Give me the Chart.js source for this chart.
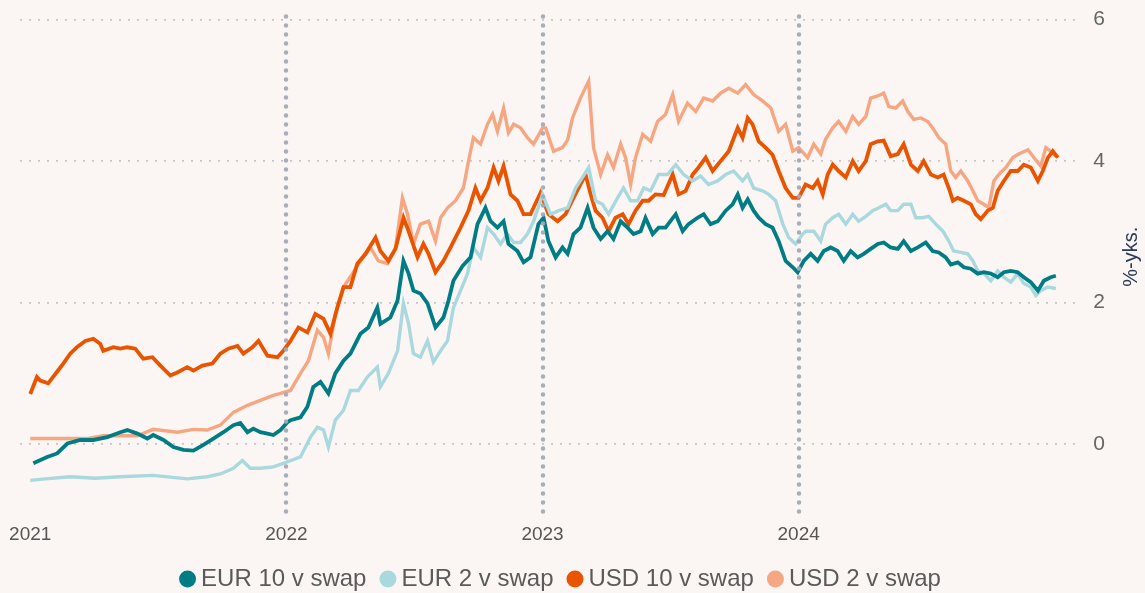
<!DOCTYPE html>
<html>
<head>
<meta charset="utf-8">
<script src="https://cdn.jsdelivr.net/npm/chart.js@4.4.0/dist/chart.umd.min.js"></script>
<style>
  html, body { margin: 0; padding: 0; background: #fbf6f3; }
  #wrap { width: 1145px; height: 593px; }
</style>
</head>
<body>
<div id="wrap"><canvas id="swapChart"></canvas></div>
<script>
// tick labels
const yearTicks = [2021, 2022, 2023, 2024];
const yearLines = [2022, 2023, 2024];
const valueTicks = [0, 2, 4, 6];
const unitLabel = '%-yks.';
const seriesNames = ['EUR 10 v swap', 'EUR 2 v swap', 'USD 10 v swap', 'USD 2 v swap'];

// [decimal year, %]
const eur10 = [
    [2021.012, -0.27], [2021.066, -0.18], [2021.105, -0.13], [2021.145, 0.01], [2021.195, 0.06],
    [2021.246, 0.06], [2021.301, 0.10], [2021.352, 0.17], [2021.379, 0.20], [2021.418, 0.15],
    [2021.457, 0.08], [2021.480, 0.13], [2021.520, 0.06], [2021.559, -0.04], [2021.598, -0.08],
    [2021.637, -0.09], [2021.676, -0.01], [2021.715, 0.08], [2021.754, 0.17], [2021.793, 0.27],
    [2021.820, 0.30], [2021.848, 0.17], [2021.871, 0.22], [2021.898, 0.17], [2021.926, 0.15],
    [2021.949, 0.13], [2021.977, 0.20], [2022.004, 0.31], [2022.016, 0.34], [2022.055, 0.38],
    [2022.082, 0.53], [2022.105, 0.81], [2022.133, 0.88], [2022.164, 0.72], [2022.191, 1.00],
    [2022.223, 1.18], [2022.250, 1.28], [2022.289, 1.56], [2022.320, 1.65], [2022.355, 1.93],
    [2022.367, 1.70], [2022.406, 1.79], [2022.434, 2.03], [2022.457, 2.59], [2022.477, 2.41],
    [2022.496, 2.17], [2022.523, 2.13], [2022.551, 1.99], [2022.582, 1.65], [2022.613, 1.79],
    [2022.633, 2.03], [2022.652, 2.31], [2022.688, 2.52], [2022.719, 2.64], [2022.746, 3.11],
    [2022.777, 3.34], [2022.797, 3.15], [2022.824, 3.06], [2022.848, 3.15], [2022.867, 2.83],
    [2022.902, 2.73], [2022.926, 2.57], [2022.953, 2.64], [2022.984, 3.11], [2023.004, 3.20],
    [2023.023, 2.87], [2023.051, 2.64], [2023.078, 2.78], [2023.098, 2.69], [2023.121, 2.97],
    [2023.148, 3.06], [2023.176, 3.34], [2023.199, 3.06], [2023.227, 2.90], [2023.254, 3.01],
    [2023.277, 2.90], [2023.305, 3.15], [2023.332, 3.06], [2023.355, 2.97], [2023.383, 3.01],
    [2023.402, 3.20], [2023.430, 2.97], [2023.453, 3.06], [2023.480, 3.06], [2023.520, 3.25],
    [2023.547, 3.01], [2023.570, 3.11], [2023.605, 3.20], [2023.629, 3.25], [2023.656, 3.11],
    [2023.684, 3.15], [2023.715, 3.30], [2023.742, 3.39], [2023.762, 3.53], [2023.781, 3.34],
    [2023.801, 3.46], [2023.824, 3.30], [2023.844, 3.20], [2023.871, 3.11], [2023.898, 3.06],
    [2023.922, 2.87], [2023.949, 2.59], [2023.977, 2.50], [2023.996, 2.43], [2024.020, 2.59],
    [2024.047, 2.69], [2024.074, 2.59], [2024.098, 2.73], [2024.125, 2.78], [2024.152, 2.73],
    [2024.176, 2.59], [2024.203, 2.73], [2024.230, 2.64], [2024.254, 2.69], [2024.281, 2.76],
    [2024.309, 2.83], [2024.332, 2.85], [2024.359, 2.78], [2024.387, 2.76], [2024.410, 2.87],
    [2024.438, 2.73], [2024.465, 2.78], [2024.496, 2.85], [2024.523, 2.73], [2024.547, 2.71],
    [2024.574, 2.64], [2024.594, 2.54], [2024.621, 2.57], [2024.645, 2.50], [2024.672, 2.48],
    [2024.699, 2.41], [2024.723, 2.43], [2024.750, 2.41], [2024.777, 2.36], [2024.801, 2.43],
    [2024.828, 2.45], [2024.855, 2.43], [2024.879, 2.36], [2024.906, 2.29], [2024.934, 2.17],
    [2024.957, 2.31], [2024.984, 2.36], [2025.004, 2.38]
];

const eur2 = [
    [2021.000, -0.51], [2021.059, -0.49], [2021.156, -0.46], [2021.254, -0.48], [2021.352, -0.46],
    [2021.480, -0.44], [2021.613, -0.49], [2021.691, -0.46], [2021.742, -0.42], [2021.793, -0.34],
    [2021.828, -0.23], [2021.859, -0.34], [2021.898, -0.34], [2021.949, -0.32], [2021.988, -0.27],
    [2022.055, -0.18], [2022.094, 0.10], [2022.121, 0.24], [2022.145, 0.20], [2022.164, -0.04],
    [2022.191, 0.34], [2022.223, 0.48], [2022.250, 0.76], [2022.281, 0.76], [2022.316, 0.95],
    [2022.355, 1.09], [2022.367, 0.81], [2022.398, 1.00], [2022.434, 1.32], [2022.457, 1.99],
    [2022.477, 1.70], [2022.496, 1.28], [2022.523, 1.23], [2022.551, 1.46], [2022.574, 1.16],
    [2022.602, 1.32], [2022.629, 1.46], [2022.652, 1.93], [2022.680, 2.17], [2022.707, 2.41],
    [2022.730, 2.78], [2022.758, 2.64], [2022.785, 3.06], [2022.809, 2.97], [2022.836, 2.83],
    [2022.863, 2.97], [2022.887, 2.85], [2022.914, 2.85], [2022.941, 2.97], [2022.965, 3.15],
    [2022.992, 3.44], [2023.000, 3.53], [2023.031, 3.25], [2023.063, 3.30], [2023.098, 3.34],
    [2023.129, 3.62], [2023.156, 3.77], [2023.180, 3.91], [2023.207, 3.44], [2023.234, 3.39],
    [2023.258, 3.25], [2023.293, 3.48], [2023.316, 3.62], [2023.344, 3.44], [2023.371, 3.44],
    [2023.395, 3.62], [2023.422, 3.58], [2023.453, 3.81], [2023.488, 3.81], [2023.520, 3.95],
    [2023.551, 3.81], [2023.586, 3.72], [2023.617, 3.79], [2023.648, 3.67], [2023.684, 3.72],
    [2023.715, 3.81], [2023.746, 3.86], [2023.781, 3.72], [2023.801, 3.81], [2023.824, 3.62],
    [2023.859, 3.58], [2023.883, 3.53], [2023.910, 3.44], [2023.938, 3.11], [2023.961, 2.92],
    [2023.988, 2.83], [2024.016, 2.97], [2024.027, 3.01], [2024.059, 3.01], [2024.086, 2.87],
    [2024.105, 3.11], [2024.133, 3.20], [2024.156, 3.25], [2024.184, 3.11], [2024.211, 3.25],
    [2024.234, 3.15], [2024.262, 3.22], [2024.289, 3.30], [2024.313, 3.34], [2024.340, 3.39],
    [2024.359, 3.30], [2024.387, 3.30], [2024.410, 3.39], [2024.438, 3.39], [2024.457, 3.20],
    [2024.484, 3.20], [2024.508, 3.22], [2024.535, 3.11], [2024.563, 3.01], [2024.586, 2.87],
    [2024.605, 2.73], [2024.633, 2.71], [2024.660, 2.69], [2024.680, 2.59], [2024.699, 2.45],
    [2024.723, 2.41], [2024.750, 2.31], [2024.777, 2.45], [2024.801, 2.36], [2024.828, 2.29],
    [2024.855, 2.41], [2024.879, 2.27], [2024.906, 2.22], [2024.926, 2.10], [2024.945, 2.17],
    [2024.973, 2.22], [2025.004, 2.20]
];

const usd10 = [
    [2021.000, 0.71], [2021.026, 0.95], [2021.039, 0.90], [2021.070, 0.86], [2021.104, 1.02],
    [2021.129, 1.14], [2021.156, 1.28], [2021.182, 1.37], [2021.215, 1.46], [2021.246, 1.49],
    [2021.273, 1.42], [2021.285, 1.32], [2021.324, 1.37], [2021.352, 1.35], [2021.379, 1.37],
    [2021.410, 1.35], [2021.441, 1.21], [2021.477, 1.23], [2021.508, 1.11], [2021.547, 0.97],
    [2021.578, 1.02], [2021.613, 1.09], [2021.637, 1.04], [2021.672, 1.11], [2021.711, 1.14],
    [2021.742, 1.28], [2021.773, 1.35], [2021.809, 1.39], [2021.832, 1.28], [2021.867, 1.37],
    [2021.891, 1.46], [2021.926, 1.25], [2021.965, 1.23], [2021.988, 1.32], [2022.016, 1.46],
    [2022.047, 1.65], [2022.082, 1.58], [2022.113, 1.84], [2022.145, 1.77], [2022.172, 1.56],
    [2022.199, 1.93], [2022.223, 2.22], [2022.250, 2.22], [2022.277, 2.55], [2022.309, 2.69],
    [2022.348, 2.92], [2022.367, 2.73], [2022.398, 2.59], [2022.426, 2.76], [2022.457, 3.20],
    [2022.477, 3.01], [2022.512, 2.64], [2022.535, 2.83], [2022.555, 2.69], [2022.582, 2.43],
    [2022.613, 2.59], [2022.641, 2.78], [2022.680, 3.06], [2022.711, 3.30], [2022.738, 3.62],
    [2022.758, 3.44], [2022.785, 3.62], [2022.809, 3.91], [2022.828, 3.72], [2022.848, 3.93],
    [2022.875, 3.53], [2022.902, 3.44], [2022.926, 3.25], [2022.953, 3.25], [2022.992, 3.55],
    [2023.023, 3.25], [2023.059, 3.15], [2023.090, 3.25], [2023.121, 3.48], [2023.148, 3.67],
    [2023.168, 3.81], [2023.188, 3.53], [2023.207, 3.30], [2023.234, 3.20], [2023.258, 3.01],
    [2023.285, 3.20], [2023.313, 3.25], [2023.336, 3.11], [2023.363, 3.30], [2023.391, 3.44],
    [2023.414, 3.44], [2023.441, 3.53], [2023.473, 3.52], [2023.508, 3.81], [2023.531, 3.53],
    [2023.559, 3.58], [2023.586, 3.81], [2023.609, 3.91], [2023.637, 4.05], [2023.664, 3.86],
    [2023.695, 4.00], [2023.727, 4.14], [2023.762, 4.47], [2023.781, 4.33], [2023.801, 4.61],
    [2023.820, 4.52], [2023.844, 4.28], [2023.871, 4.19], [2023.898, 4.09], [2023.922, 3.86],
    [2023.949, 3.62], [2023.977, 3.48], [2024.000, 3.48], [2024.027, 3.67], [2024.055, 3.62],
    [2024.074, 3.72], [2024.094, 3.53], [2024.113, 3.81], [2024.133, 3.95], [2024.156, 3.86],
    [2024.184, 3.77], [2024.211, 4.00], [2024.234, 3.86], [2024.262, 4.00], [2024.281, 4.24],
    [2024.309, 4.28], [2024.332, 4.29], [2024.359, 4.07], [2024.387, 4.10], [2024.410, 4.24],
    [2024.438, 3.95], [2024.465, 3.86], [2024.488, 4.00], [2024.516, 3.81], [2024.543, 3.77],
    [2024.566, 3.81], [2024.586, 3.62], [2024.602, 3.44], [2024.621, 3.48], [2024.645, 3.44],
    [2024.672, 3.39], [2024.691, 3.25], [2024.711, 3.18], [2024.738, 3.30], [2024.758, 3.34],
    [2024.777, 3.58], [2024.801, 3.72], [2024.828, 3.86], [2024.855, 3.86], [2024.879, 3.95],
    [2024.906, 3.91], [2024.934, 3.72], [2024.953, 3.86], [2024.973, 4.05], [2024.992, 4.14],
    [2025.012, 4.05]
];

const usd2 = [
    [2021.000, 0.08], [2021.195, 0.08], [2021.221, 0.08], [2021.285, 0.12], [2021.418, 0.12],
    [2021.480, 0.21], [2021.574, 0.17], [2021.637, 0.21], [2021.691, 0.20], [2021.742, 0.27],
    [2021.793, 0.45], [2021.848, 0.55], [2021.898, 0.62], [2021.949, 0.69], [2021.977, 0.72],
    [2022.016, 0.76], [2022.055, 1.00], [2022.086, 1.18], [2022.121, 1.61], [2022.145, 1.51],
    [2022.164, 1.28], [2022.191, 1.84], [2022.223, 2.22], [2022.258, 2.41], [2022.289, 2.59],
    [2022.328, 2.78], [2022.359, 2.59], [2022.395, 2.55], [2022.426, 2.78], [2022.453, 3.48],
    [2022.473, 3.25], [2022.496, 2.83], [2022.523, 3.11], [2022.555, 3.15], [2022.582, 2.87],
    [2022.602, 3.20], [2022.629, 3.34], [2022.660, 3.44], [2022.691, 3.62], [2022.711, 4.00],
    [2022.730, 4.33], [2022.758, 4.24], [2022.785, 4.52], [2022.805, 4.66], [2022.824, 4.42],
    [2022.848, 4.75], [2022.867, 4.40], [2022.887, 4.52], [2022.914, 4.47], [2022.941, 4.33],
    [2022.965, 4.24], [2023.000, 4.47], [2023.012, 4.47], [2023.043, 4.14], [2023.078, 4.19],
    [2023.098, 4.30], [2023.117, 4.61], [2023.148, 4.89], [2023.180, 5.13], [2023.199, 4.19],
    [2023.227, 3.81], [2023.254, 4.09], [2023.277, 3.91], [2023.305, 4.24], [2023.324, 4.05],
    [2023.344, 3.67], [2023.363, 4.05], [2023.391, 4.38], [2023.422, 4.28], [2023.449, 4.56],
    [2023.480, 4.66], [2023.508, 4.94], [2023.531, 4.56], [2023.566, 4.82], [2023.598, 4.70],
    [2023.629, 4.89], [2023.664, 4.85], [2023.695, 4.96], [2023.727, 5.03], [2023.762, 4.96],
    [2023.793, 5.08], [2023.824, 4.94], [2023.859, 4.85], [2023.891, 4.75], [2023.922, 4.42],
    [2023.949, 4.52], [2023.977, 4.14], [2024.000, 4.19], [2024.035, 4.05], [2024.059, 4.24],
    [2024.086, 4.10], [2024.105, 4.31], [2024.133, 4.47], [2024.156, 4.56], [2024.184, 4.42],
    [2024.211, 4.63], [2024.234, 4.52], [2024.262, 4.63], [2024.281, 4.89], [2024.309, 4.92],
    [2024.332, 4.96], [2024.352, 4.77], [2024.379, 4.75], [2024.406, 4.85], [2024.426, 4.70],
    [2024.449, 4.59], [2024.477, 4.61], [2024.504, 4.56], [2024.523, 4.47], [2024.547, 4.33],
    [2024.574, 4.24], [2024.594, 3.86], [2024.613, 3.77], [2024.633, 3.86], [2024.660, 3.72],
    [2024.680, 3.58], [2024.699, 3.44], [2024.723, 3.39], [2024.742, 3.34], [2024.762, 3.72],
    [2024.781, 3.81], [2024.809, 3.91], [2024.836, 4.05], [2024.859, 4.10], [2024.895, 4.16],
    [2024.918, 4.05], [2024.945, 3.93], [2024.965, 4.19], [2024.984, 4.14], [2025.004, 4.07]
];

const seriesColors = ['#007c84', '#a9d8de', '#ea5400', '#f7a682'];
const seriesWidths = [3.8, 3.4, 3.8, 3.4];
const fontFamily = '"Liberation Sans", Arial, sans-serif';

const yearLinesPlugin = {
    id: 'yearLines',
    afterDatasetsDraw(chart) {
        const { ctx, chartArea, scales } = chart;
        ctx.save();
        ctx.strokeStyle = 'rgba(162, 170, 182, 0.95)';
        ctx.lineWidth = 4.5;
        ctx.lineCap = 'round';
        ctx.setLineDash([0, 9]);
        yearLines.forEach(year => {
            const x = Math.round(scales.x.getPixelForValue(year));
            ctx.beginPath();
            ctx.moveTo(x, chartArea.top + 2);
            ctx.lineTo(x, chartArea.bottom);
            ctx.stroke();
        });
        ctx.restore();
    }
};

const unitLabelPlugin = {
    id: 'unitLabel',
    afterDraw(chart) {
        const { ctx, scales } = chart;
        const y = scales.y.getPixelForValue(2.65);
        ctx.save();
        ctx.translate(1131, y);
        ctx.rotate(-Math.PI / 2);
        ctx.font = '20px ' + fontFamily;
        ctx.fillStyle = '#2b3a55';
        ctx.textAlign = 'center';
        ctx.textBaseline = 'middle';
        ctx.fillText(unitLabel, 0, 0);
        ctx.restore();
    }
};

const toPoints = rows => rows.map(r => ({ x: r[0], y: r[1] }));
const allSeries = [eur10, eur2, usd10, usd2];

new Chart(document.getElementById('swapChart'), {
    type: 'line',
    data: {
        datasets: allSeries.map((rows, i) => ({
            label: seriesNames[i],
            data: toPoints(rows),
            borderColor: seriesColors[i],
            backgroundColor: seriesColors[i],
            borderWidth: seriesWidths[i],
            pointRadius: 0,
            pointStyle: 'circle',
            tension: 0,
            fill: false
        }))
    },
    options: {
        responsive: true,
        maintainAspectRatio: false,
        animation: false,
        layout: { padding: { left: 20, right: 38, top: 0, bottom: -8 } },
        plugins: {
            tooltip: { enabled: false },
            legend: {
                position: 'bottom',
                labels: {
                    usePointStyle: true,
                    pointStyle: 'circle',
                    boxWidth: 3,
                    boxHeight: 12,
                    padding: 20,
                    color: '#5a5a5a',
                    font: { family: fontFamily, size: 24 },
                    generateLabels: (chart) => {
                        const items = Chart.defaults.plugins.legend.labels.generateLabels(chart);
                        items.forEach(item => { item.lineWidth = 0; item.strokeStyle = 'rgba(0,0,0,0)'; });
                        return items;
                    }
                }
            }
        },
        scales: {
            x: {
                type: 'linear',
                min: 2020.96,
                max: 2025.08,
                afterBuildTicks: (axis) => { axis.ticks = yearTicks.map(v => ({ value: v })); },
                // keep the axis box tight and stop the first label from pushing the plot right
                afterFit: (axis) => {
                    axis.height = 32;
                    axis.paddingLeft = 0;
                    axis.paddingRight = 0;
                },
                grid: { display: false, drawTicks: false },
                border: { display: false },
                ticks: {
                    color: '#555555',
                    font: { family: fontFamily, size: 19 },
                    padding: 8,
                    maxRotation: 0,
                    callback: (value) => String(value)
                }
            },
            y: {
                position: 'right',
                min: -1,
                max: 6.07,
                afterBuildTicks: (axis) => { axis.ticks = valueTicks.map(v => ({ value: v })); },
                grid: {
                    color: '#c6c6c6',
                    lineWidth: 1.7,
                    drawTicks: true,
                    tickLength: 16,
                    tickColor: 'rgba(0,0,0,0)'
                },
                border: { display: false, dash: [2, 7] },
                ticks: {
                    color: '#666666',
                    font: { family: fontFamily, size: 21 },
                    padding: 2
                }
            }
        }
    },
    plugins: [yearLinesPlugin, unitLabelPlugin]
});
</script>
</body>
</html>
